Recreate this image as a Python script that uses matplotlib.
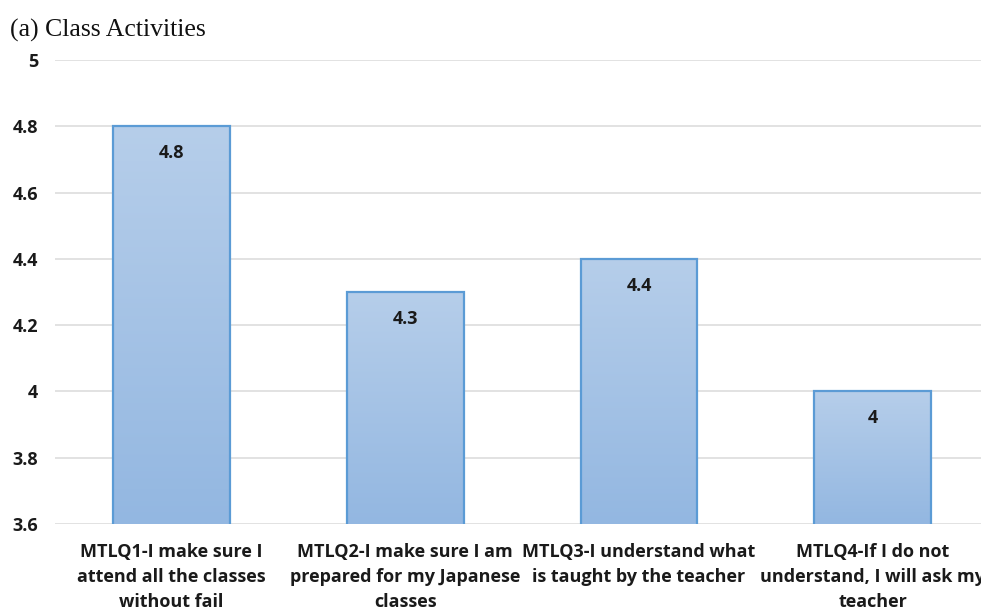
import matplotlib
matplotlib.use("Agg")
import matplotlib.pyplot as plt
import numpy as np
from matplotlib.colors import LinearSegmentedColormap

categories = [
    "MTLQ1-I make sure I\nattend all the classes\nwithout fail",
    "MTLQ2-I make sure I am\nprepared for my Japanese\nclasses",
    "MTLQ3-I understand what\nis taught by the teacher",
    "MTLQ4-If I do not\nunderstand, I will ask my\nteacher",
]
values = [4.8, 4.3, 4.4, 4.0]
value_labels = ["4.8", "4.3", "4.4", "4"]
yticks = [3.6, 3.8, 4.0, 4.2, 4.4, 4.6, 4.8, 5.0]
ytick_labels = ["3.6", "3.8", "4", "4.2", "4.4", "4.6", "4.8", "5"]

fig = plt.figure(figsize=(9.81, 6.13), dpi=100)
ax = fig.add_axes([0.0557, 0.1452, 0.953, 0.757])

ymin, ymax = 3.6, 5.0
x = np.arange(len(categories))
bars = ax.bar(x, values, width=0.5, bottom=0, color="none",
              edgecolor="#5B9BD5", linewidth=1.6, zorder=3)

cmap = LinearSegmentedColormap.from_list("barfill", ["#93B7E1", "#B6CEEA"])
grad = np.linspace(0, 1, 256).reshape(-1, 1)
for b, v in zip(bars, values):
    x0 = b.get_x()
    w = b.get_width()
    im = ax.imshow(grad, extent=[x0, x0 + w, ymin, v], origin="lower",
                   cmap=cmap, aspect="auto", zorder=2)
    im.set_clip_path(b)

for xi, v, lab in zip(x, values, value_labels):
    ax.annotate(lab, (xi, v), xytext=(0, -19.5), textcoords="offset points",
                ha="center", va="center", fontsize=13, fontweight="bold",
                family="Open Sans", color="#1a1a1a", zorder=4)

ax.set_xlim(-0.5, len(categories) - 0.5)
ax.set_ylim(ymin, ymax)
ax.set_yticks(yticks)
ax.set_yticklabels(ytick_labels, fontsize=13, fontweight="bold",
                   family="Open Sans", color="#1a1a1a")
ax.set_xticks(x)
ax.set_xticklabels(categories, fontsize=13, fontweight="bold",
                   family="Open Sans", color="#1a1a1a", linespacing=1.5)
ax.tick_params(axis="both", length=0)
ax.tick_params(axis="y", pad=12)
ax.tick_params(axis="x", pad=14)
ax.grid(axis="y", color="#DDDDDD", linewidth=1.2, zorder=0)
for s in ax.spines.values():
    s.set_visible(False)

fig.text(0.010, 0.951, "(a) Class Activities", fontsize=18.5,
         family="Liberation Serif", ha="left", va="center", color="#111111")

fig.savefig("out.png", dpi=100)
